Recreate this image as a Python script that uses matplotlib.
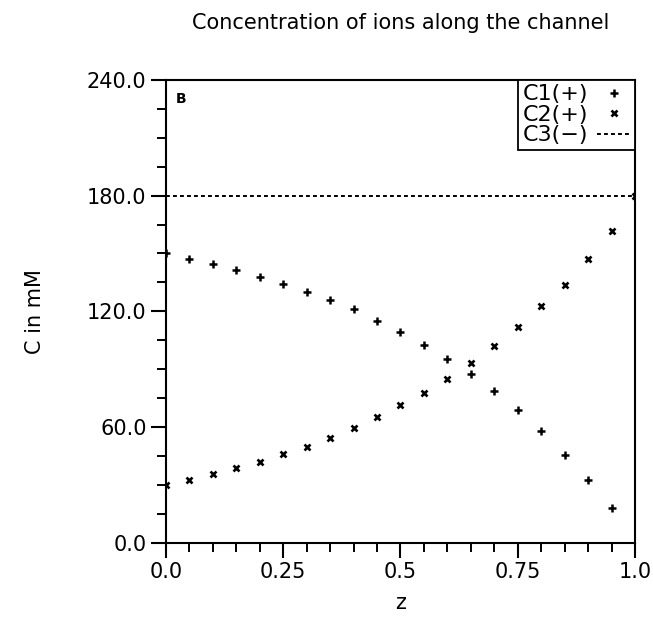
"""Ion concentration profiles along the channel (panel B)."""
import matplotlib
matplotlib.use("Agg")
import matplotlib.pyplot as plt
from matplotlib.ticker import MultipleLocator, FixedLocator

# position along the channel
z = [0.0, 0.05, 0.10, 0.15, 0.20, 0.25, 0.30, 0.35, 0.40, 0.45, 0.50,
     0.55, 0.60, 0.65, 0.70, 0.75, 0.80, 0.85, 0.90, 0.95, 1.0]

# concentrations in mM
c1 = [150.0, 147.1, 144.5, 141.2, 137.9, 134.4, 130.1, 125.7, 121.0, 115.2, 109.4,
      102.6, 95.3, 87.2, 78.5, 68.7, 57.9, 45.6, 32.3, 18.1, 0.0]
c2 = [30.0, 32.6, 35.6, 38.5, 42.0, 45.8, 49.8, 54.4, 59.5, 65.0, 71.3,
      77.7, 84.9, 93.1, 102.1, 111.6, 122.5, 133.8, 147.1, 161.5, 180.0]
c3 = [180.0, 180.0, 180.0, 180.0, 180.0, 180.0, 180.0, 180.0, 180.0, 180.0, 180.0,
      180.0, 180.0, 180.0, 180.0, 180.0, 180.0, 180.0, 180.0, 180.0, 180.0]

x_ticks = [0.0, 0.25, 0.5, 0.75, 1.0]
x_ticklabels = ["0.0", "0.25", "0.5", "0.75", "1.0"]
y_ticks = [0.0, 60.0, 120.0, 180.0, 240.0]


def main() -> None:
    plt.rcParams["font.family"] = ["DejaVu Sans"]
    fig = plt.figure(figsize=(6.53, 6.31), dpi=100)
    ax = fig.add_axes([0.2542, 0.1402, 0.9724 - 0.2542, 0.8732 - 0.1402])

    ax.plot(z, c1, ls="none", marker="+", ms=5.5, mew=1.8, color="black", label="C1(+)")
    ax.plot(z, c2, ls="none", marker="x", ms=4.2, mew=1.9, color="black", label="C2(+)")
    ax.plot(z, c3, ls=(0, (2.0, 1.6)), lw=1.4, color="black", label="C3(\u2212)")

    ax.set_xlim(0, 1)
    ax.set_ylim(0, 240)
    ax.xaxis.set_major_locator(FixedLocator(x_ticks))
    ax.set_xticklabels(x_ticklabels)
    ax.xaxis.set_minor_locator(MultipleLocator(0.05))
    ax.yaxis.set_major_locator(FixedLocator(y_ticks))
    ax.set_yticklabels([f"{v:.1f}" for v in y_ticks])
    ax.yaxis.set_minor_locator(MultipleLocator(15))

    ax.tick_params(which="major", direction="out", length=11, width=1.5,
                   labelsize=15, pad=3, top=False, right=False)
    ax.tick_params(which="minor", direction="out", length=6.5, width=1.4,
                   top=False, right=False)
    for sp in ax.spines.values():
        sp.set_linewidth(1.5)

    ax.set_title("Concentration of ions along the channel", fontsize=15, pad=37)
    ax.set_xlabel("z", fontsize=15, labelpad=8)
    ax.set_ylabel("C in mM", fontsize=15, labelpad=30)
    ax.text(0.02, 0.975, "B", transform=ax.transAxes, fontsize=10,
            fontweight="bold", va="top", ha="left")

    leg = ax.legend(loc="upper right", borderaxespad=0, markerfirst=False,
                    fontsize=16, handlelength=1.5, handletextpad=0.4,
                    labelspacing=0.02, borderpad=0.2, fancybox=False,
                    framealpha=1, edgecolor="black")
    leg.get_frame().set_linewidth(1.3)

    fig.savefig("out.png", dpi=100)
    plt.close(fig)


if __name__ == "__main__":
    main()
